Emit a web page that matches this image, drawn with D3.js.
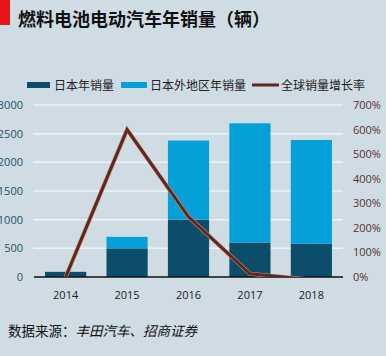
<!DOCTYPE html>
<html><head><meta charset="utf-8">
<script src="https://cdn.jsdelivr.net/npm/d3@7"></script>
<style>
html,body{margin:0;padding:0;background:#cfdce4;}
svg{display:block;font-family:"Noto Sans CJK SC","Noto Sans",sans-serif;}
</style></head>
<body><svg id="c" width="386" height="356"></svg>
<script>
const years = ["2014","2015","2016","2017","2018"];
const japanSales = [90, 500, 1000, 600, 580];
const otherSales = [0, 200, 1380, 2080, 1810];
const globalGrowth = [0, 600, 245, 13, -11];
const leftTicks = [0, 500, 1000, 1500, 2000, 2500, 3000];
const rightTicks = [0, 100, 200, 300, 400, 500, 600, 700];
const seriesNames = ["日本年销量", "日本外地区年销量", "全球销量增长率"];

const svg = d3.select("#c");
const colJ = "#0c4d69", colO = "#05a0d8", colL = "#5b2824";
const m = {l:34, r:343, t:105, b:277};

svg.append("rect").attr("x",0).attr("y",0).attr("width",10).attr("height",25).attr("fill","#e8141a");
svg.append("text").attr("x",18).attr("y",26).attr("font-size",18).attr("font-weight","bold")
  .attr("fill","#111").text("燃料电池电动汽车年销量（辆）");

const x = d3.scaleBand().domain(years).range([m.l, m.r]).paddingInner(0.33).paddingOuter(0.18);
const y = d3.scaleLinear().domain([0,3000]).range([m.b, m.t]);
const y2 = d3.scaleLinear().domain([0,700]).range([m.b, m.t]);

// gridlines
svg.append("g").selectAll("line").data(leftTicks.filter(d=>d>0)).join("line")
  .attr("x1",m.l-1).attr("x2",m.r).attr("y1",d=>y(d)).attr("y2",d=>y(d))
  .attr("stroke","#eef3f6").attr("stroke-width",1.5);

// bars
const g = svg.append("g");
years.forEach((yr,i)=>{
  g.append("rect").attr("x",x(yr)).attr("width",x.bandwidth())
    .attr("y",y(japanSales[i])).attr("height",y(0)-y(japanSales[i])).attr("fill",colJ);
  if (otherSales[i]>0) g.append("rect").attr("x",x(yr)).attr("width",x.bandwidth())
    .attr("y",y(japanSales[i]+otherSales[i])).attr("height",y(japanSales[i])-y(japanSales[i]+otherSales[i])).attr("fill",colO);
});

// axis baseline
svg.append("line").attr("x1",m.l).attr("x2",m.r).attr("y1",m.b).attr("y2",m.b).attr("stroke","#111").attr("stroke-width",1.5);

// growth line (clipped at 0)
svg.append("clipPath").attr("id","clp").append("rect").attr("x",0).attr("y",0).attr("width",386).attr("height",m.b);
const line = d3.line().x((d,i)=>x(years[i])+x.bandwidth()/2).y(d=>y2(d));
const lg = svg.append("g").attr("clip-path","url(#clp)");
lg.append("path").datum(globalGrowth).attr("d",line).attr("fill","none").attr("stroke","#c98a6e").attr("stroke-width",4.2).attr("stroke-linejoin","miter");
lg.append("path").datum(globalGrowth).attr("d",line).attr("fill","none").attr("stroke",colL).attr("stroke-width",3).attr("stroke-linejoin","miter");

// left axis labels
const ax = d3.axisLeft(y).tickValues(leftTicks).tickSize(0).tickPadding(0).tickFormat(d3.format("d"));
const gl = svg.append("g").attr("transform","translate(23,0)").call(ax);
gl.select(".domain").remove();
gl.selectAll("text").attr("font-size",11).attr("fill","#23506b").attr("font-family","Open Sans, sans-serif");

// right axis labels
const ax2 = d3.axisRight(y2).tickValues(rightTicks).tickSize(0).tickPadding(0).tickFormat(d=>d+"%");
const gr = svg.append("g").attr("transform","translate(353,0)").call(ax2);
gr.select(".domain").remove();
gr.selectAll("text").attr("font-size",11).attr("fill","#5a3030").attr("font-family","Open Sans, sans-serif");

// x axis labels
const axb = d3.axisBottom(x).tickSize(0).tickPadding(0);
const gb = svg.append("g").attr("transform","translate(0,291)").call(axb);
gb.select(".domain").remove();
gb.selectAll("text").attr("font-size",11).attr("fill","#222").attr("font-family","Open Sans, sans-serif");

// legend
const lgd = svg.append("g");
lgd.append("rect").attr("x",27).attr("y",82).attr("width",23).attr("height",6).attr("fill",colJ);
lgd.append("text").attr("x",54).attr("y",89.5).attr("font-size",12).attr("fill","#222").text(seriesNames[0]);
lgd.append("rect").attr("x",121).attr("y",82).attr("width",26).attr("height",6).attr("fill",colO);
lgd.append("text").attr("x",150).attr("y",89.5).attr("font-size",12).attr("fill","#222").text(seriesNames[1]);
lgd.append("line").attr("x1",252).attr("x2",279).attr("y1",85).attr("y2",85).attr("stroke",colL).attr("stroke-width",3);
lgd.append("text").attr("x",281).attr("y",89.5).attr("font-size",12).attr("fill","#222").text(seriesNames[2]);

// source
const src = svg.append("text").attr("x",8).attr("y",336).attr("font-size",13.5).attr("fill","#111");
src.append("tspan").text("数据来源：");
src.append("tspan").attr("font-style","italic").text("丰田汽车、招商证券");
</script></body></html>
